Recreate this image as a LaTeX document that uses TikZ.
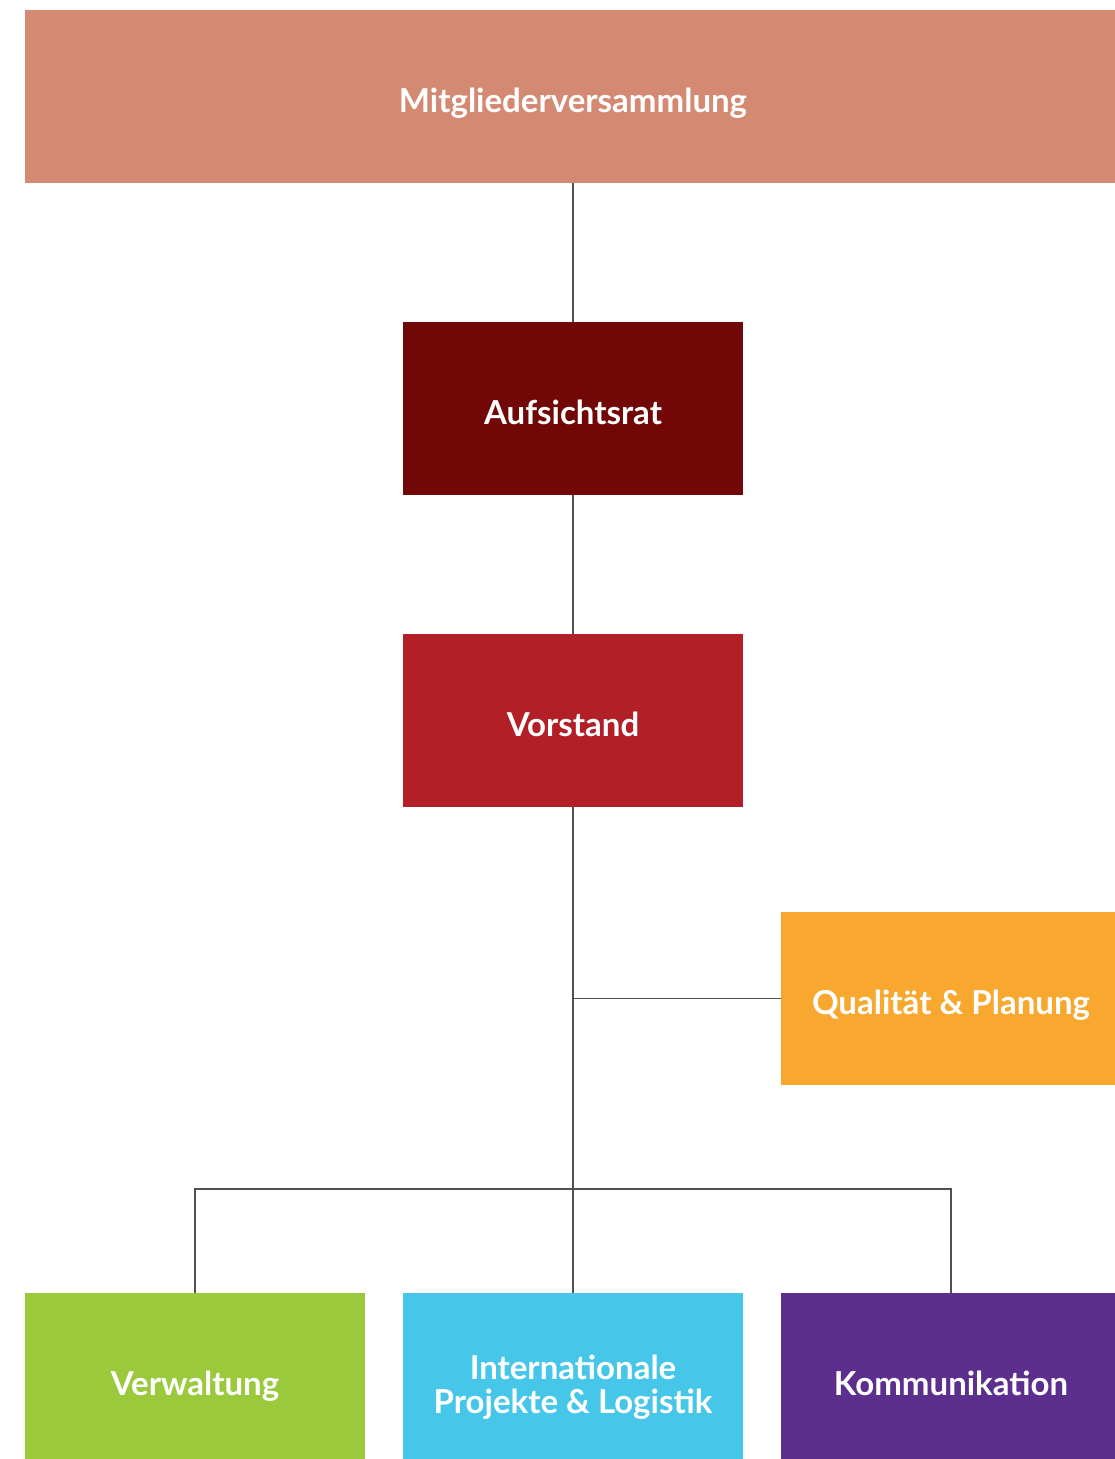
\documentclass[tikz,border=0pt]{standalone}
\usepackage{fontspec}
\setmainfont{Lato}
\definecolor{cTop}{HTML}{D48A72}
\definecolor{cAuf}{HTML}{720708}
\definecolor{cVor}{HTML}{B31F26}
\definecolor{cQual}{HTML}{F9A82F}
\definecolor{cVerw}{HTML}{9AC93C}
\definecolor{cIntl}{HTML}{46C7E9}
\definecolor{cKomm}{HTML}{5C2F8F}
\definecolor{cLine}{HTML}{505050}
\tikzset{
  orgbox/.style={rectangle, minimum width=340pt, minimum height=173pt, inner sep=0pt,
    text=white, font=\fontsize{33}{34}\selectfont\bfseries, align=center,
    text height=31pt, text depth=0pt},
  link/.style={draw=cLine, line width=1.5pt}
}
\begin{document}
\begin{tikzpicture}[x=1pt,y=-1pt]
\useasboundingbox (0,0) rectangle (1115,1459);
\clip (0,0) rectangle (1115,1459);
\node[orgbox, fill=cTop, minimum width=1096pt] (top) at (573,96.5) {Mitgliederversammlung};
\node[orgbox, fill=cAuf] (auf) at (573,408.5) {Aufsichtsrat};
\node[orgbox, fill=cVor] (vor) at (573,720.5) {Vorstand};
\node[orgbox, fill=cQual] (qual) at (951,998.5) {Qualität \& Planung};
\node[orgbox, fill=cVerw] (verw) at (195,1379.5) {Verwaltung};
\node[orgbox, fill=cIntl, text height=67pt] (intl) at (573,1379.5) {Internationale\\Projekte \& Logistik};
\node[orgbox, fill=cKomm] (komm) at (951,1379.5) {Kommunikation};
\coordinate (bus) at (573,1189);
\draw[link] (top.south) -- (auf.north);
\draw[link] (auf.south) -- (vor.north);
\draw[link] (vor.south) -- (intl.north);
\draw[link] (vor.south |- qual.west) -- (qual.west);
\draw[link] (verw.north) -- (verw.north |- bus) -- (komm.north |- bus) -- (komm.north);
\end{tikzpicture}
\end{document}
